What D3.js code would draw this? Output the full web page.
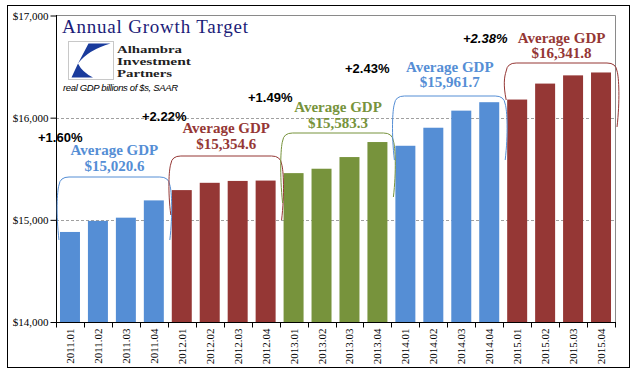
<!DOCTYPE html>
<html><head><meta charset="utf-8">
<script src="https://cdn.jsdelivr.net/npm/d3@7"></script>
<style>body{margin:0;background:#fff}svg{display:block}</style>
</head><body>
<svg id="c" width="641" height="375"></svg>
<script>
// ---- data ----
const quarters = ["2011.01","2011.02","2011.03","2011.04","2012.01","2012.02","2012.03","2012.04",
  "2013.01","2013.02","2013.03","2013.04","2014.01","2014.02","2014.03","2014.04",
  "2015.01","2015.02","2015.03","2015.04"];
const gdp = [14881.3,14989.6,15021.1,15190.3, 15291.0,15362.4,15380.8,15384.3,
  15457.2,15500.2,15614.4,15761.5, 15724.9,15901.5,16068.8,16151.4,
  16177.3,16333.6,16414.0,16442.3];
const years = ["2011","2012","2013","2014","2015"];
const yearAvg = ["$15,020.6","$15,354.6","$15,583.3","$15,961.7","$16,341.8"];
const growth = ["+1.60%","+2.22%","+1.49%","+2.43%","+2.38%"];
const yTicks = [14000,15000,16000,17000];

// ---- layout / style (not data) ----
const palette = ["#558ED5","#953735","#77933C","#558ED5","#953735"];
const braceTop = [177,156,133,96,63];
const braceBotL = [240,215,203,160,100];
const braceBotR = [240,220,197,160,127];
const avgY = [[155,171],[133,149],[112,128],[72,87],[43,58]];
const growthPos = [[38,142],[142,121],[248,102],[345,73],[463,43]];

const svg = d3.select("#c");
const L=56, R=615, T=15, B=322;
const x = d3.scaleBand().domain(quarters).range([L,R]).paddingInner(0.285).paddingOuter(0.1425);
const y = d3.scaleLinear().domain([14000,17000]).range([B,T+0.5]);
const serif = "'Liberation Serif','Times New Roman',serif";
const sans = "'Liberation Sans',Arial,sans-serif";

// outer frame
svg.append("rect").attr("x",7.5).attr("y",5.5).attr("width",622).attr("height",362)
  .attr("fill","#fff").attr("stroke","#000").attr("stroke-width",1);

// plot border (top/right)
svg.append("path").attr("d",`M${L},${T+0.5}H${R+0.5}V${B}`).attr("fill","none").attr("stroke","#8a8a8a");

// gridlines
svg.append("g").selectAll("line").data([15000,16000]).join("line")
  .attr("x1",L).attr("x2",R).attr("y1",d=>Math.round(y(d))+0.5).attr("y2",d=>Math.round(y(d))+0.5)
  .attr("stroke","#a0a0a0").attr("stroke-dasharray","3,2");

// bars
svg.append("g").selectAll("rect").data(quarters).join("rect")
  .attr("x",d=>x(d)).attr("width",x.bandwidth())
  .attr("y",(d,i)=>y(gdp[i])).attr("height",(d,i)=>B-y(gdp[i]))
  .attr("fill",(d,i)=>palette[Math.floor(i/4)]);

// axes
const yAxis = d3.axisLeft(y).tickValues(yTicks).tickSize(6).tickFormat(d=>"$"+d3.format(",")(d));
const gy = svg.append("g").attr("transform",`translate(${L+0.5},0)`).call(yAxis);
gy.select(".domain").attr("stroke","#000").attr("d",`M0,${T}V${B+0.5}`);
gy.selectAll("text").attr("font-family",serif).attr("font-size",11).attr("fill","#000").attr("x",-8);

const gx = svg.append("g").attr("transform",`translate(0,${B+0.5})`);
gx.append("line").attr("x1",L).attr("x2",R+1).attr("stroke","#000");
const bounds = d3.range(quarters.length+1).map(i=>L+i*x.step());
gx.selectAll(".tk").data(bounds).join("line").attr("class","tk")
  .attr("x1",d=>Math.round(d)+0.5).attr("x2",d=>Math.round(d)+0.5).attr("y1",0).attr("y2",5).attr("stroke","#000");
gx.selectAll(".lb").data(quarters).join("text").attr("class","lb")
  .attr("transform",d=>`translate(${x(d)+x.bandwidth()/2+4},6) rotate(-90)`)
  .attr("text-anchor","end").attr("font-family",serif).attr("font-size",11).attr("fill","#000")
  .text(d=>d);

// braces
function bracePath(x0,x1,yt,ybL,ybR){
  const r=8;
  return `M${x0},${ybL} C${x0-3},${ybL-(ybL-yt)*0.4} ${x0-2},${yt+r+6} ${x0},${yt+r} Q${x0+1},${yt} ${x0+r+2},${yt} H${x1-r-2} Q${x1-1},${yt} ${x1},${yt+r} C${x1+2},${yt+r+6} ${x1+3},${ybR-(ybR-yt)*0.4} ${x1},${ybR}`;
}
years.forEach((yr,k)=>{
  const x0 = x(quarters[k*4]) - x.step()*0.1425 + 3;
  const x1 = x(quarters[k*4+3]) + x.bandwidth() + x.step()*0.1425 + 2;
  svg.append("path").attr("d",bracePath(x0,x1,braceTop[k],braceBotL[k],braceBotR[k]))
    .attr("fill","none").attr("stroke",palette[k]).attr("stroke-width",1);
  const cx=(x0+x1)/2;
  svg.append("text").attr("x",cx).attr("y",avgY[k][0]).attr("text-anchor","middle")
    .attr("font-family",serif).attr("font-weight","bold").attr("font-size",15).attr("fill",palette[k]).text("Average GDP");
  svg.append("text").attr("x",cx).attr("y",avgY[k][1]).attr("text-anchor","middle")
    .attr("font-family",serif).attr("font-weight","bold").attr("font-size",15).attr("fill",palette[k]).text(yearAvg[k]);
  svg.append("text").attr("x",growthPos[k][0]).attr("y",growthPos[k][1])
    .attr("font-family",sans).attr("font-weight","bold").attr("font-size",13).attr("fill","#000")
    .attr("font-style",k===4?"italic":"normal").text(growth[k]);
});

// title
svg.append("text").attr("x",62).attr("y",33).attr("font-family",serif).attr("font-size",19)
  .attr("textLength",186).attr("fill","#1c1c78").text("Annual Growth Target");

// logo
svg.append("rect").attr("x",68.5).attr("y",41.5).attr("width",45).attr("height",38)
  .attr("fill","#fff").attr("stroke","#c8c8c8");
svg.append("path").attr("d","M88.5,43.5 L110.5,43.5 Q88,50 78,63.5 Z").attr("fill","#1a3b9c");
svg.append("path").attr("d","M78,63.5 L71.5,77.5 L93,77.5 Q82,72 78,63.5 Z").attr("fill","#1a3b9c");
const logoLines=["Alhambra","Investment","Partners"], logoW=[65,74,55];
logoLines.forEach((t,i)=>svg.append("text").attr("x",117).attr("y",53+i*12)
  .attr("font-family",serif).attr("font-size",10.8).attr("font-weight","bold").attr("fill","#222")
  .attr("textLength",logoW[i]).attr("lengthAdjust","spacingAndGlyphs").text(t));
svg.append("text").attr("x",63).attr("y",91).attr("font-family",sans).attr("font-style","italic")
  .attr("font-size",9.5).attr("textLength",115).attr("fill","#000").text("real GDP billions of $s, SAAR");
</script>
</body></html>
